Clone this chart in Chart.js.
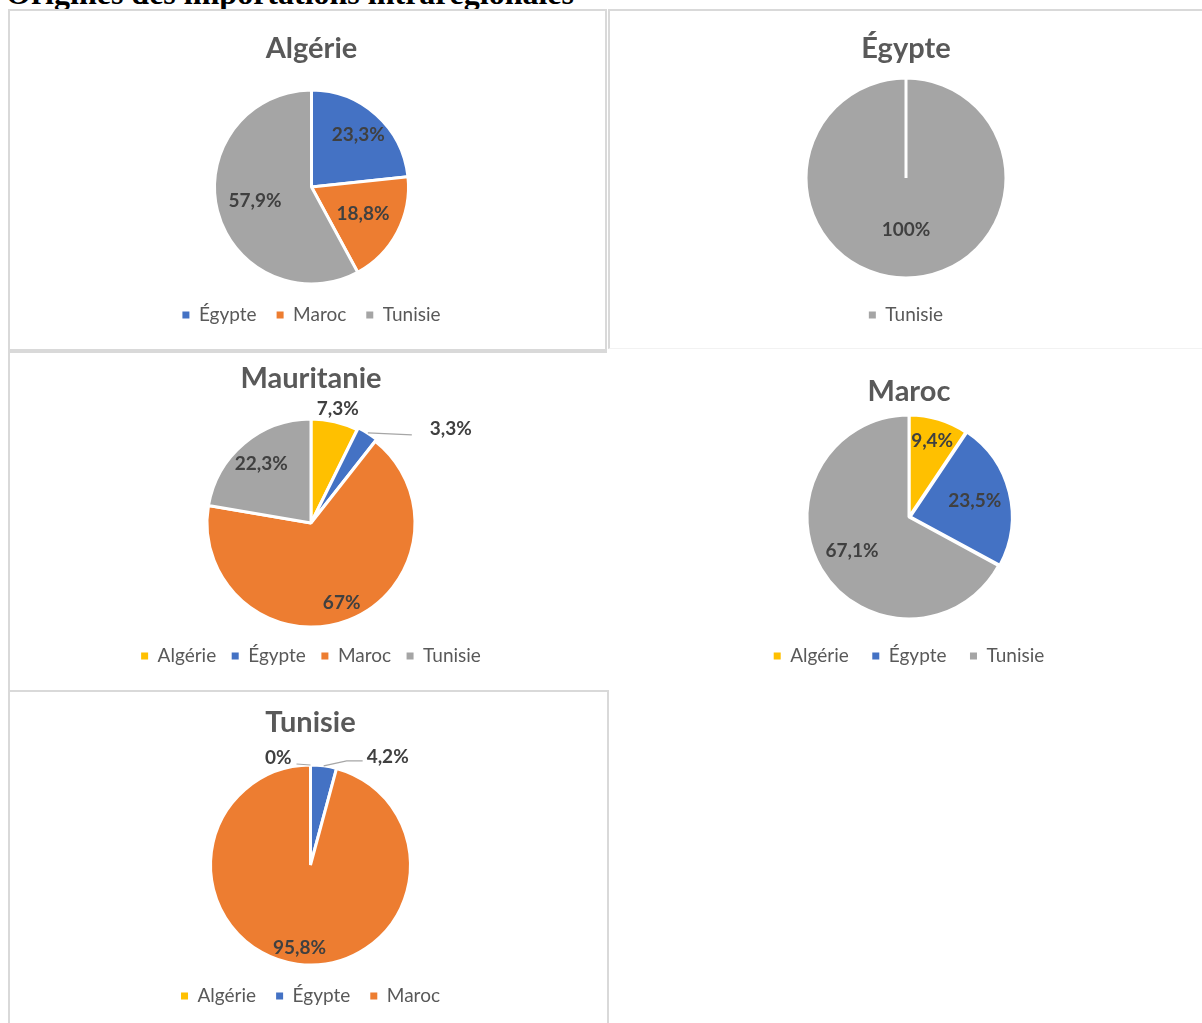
<!DOCTYPE html>
<html lang="fr">
<head>
<meta charset="utf-8">
<title>Origines des importations intrarégionales</title>
<script src="https://cdn.jsdelivr.net/npm/chart.js@4.4.0/dist/chart.umd.min.js"></script>
<style>
  body { margin: 0; background: #fff; width: 1202px; height: 1023px; overflow: hidden; position: relative; }
  #main-title { position: absolute; left: 6px; top: -23px; font: bold 32px/32px "Liberation Serif", serif; color: #000; white-space: nowrap; }
  .panel { position: absolute; box-sizing: border-box; background: #fff; }
  .panel canvas { position: absolute; left: 0; top: 0; }
  #p1 { left: 8px; top: 9px; width: 599px; height: 344px; border: 2px solid #d9d9d9; border-bottom-width: 4px; }
  #p2 { left: 608px; top: 9px; width: 594px; height: 340px; border-left: 2px solid #d9d9d9; border-top: 2px solid #d9d9d9; border-bottom: 1px solid #f2f2f2; }
  #p3 { left: 8px; top: 353px; width: 600px; height: 337px; border-left: 2px solid #d9d9d9; }
  #p4 { left: 608px; top: 353px; width: 594px; height: 337px; }
  #p5 { left: 8px; top: 690px; width: 601px; height: 340px; border: 2px solid #d9d9d9; border-bottom: none; }
</style>
</head>
<body>
<div id="main-title">Origines des importations intrarégionales</div>
<div class="panel" id="p1"><canvas id="c-algerie" width="595" height="336"></canvas></div>
<div class="panel" id="p2"><canvas id="c-egypte" width="592" height="337"></canvas></div>
<div class="panel" id="p3"><canvas id="c-mauritanie" width="598" height="337"></canvas></div>
<div class="panel" id="p4"><canvas id="c-maroc" width="594" height="337"></canvas></div>
<div class="panel" id="p5"><canvas id="c-tunisie" width="597" height="331"></canvas></div>
<script>
// Data (shares of intra-regional imports, %)
const algerieLabels = ['Égypte', 'Maroc', 'Tunisie'];
const algerieValues = [23.3, 18.8, 57.9];

const egypteLabels = ['Tunisie'];
const egypteValues = [100];

const mauritanieLabels = ['Algérie', 'Égypte', 'Maroc', 'Tunisie'];
const mauritanieValues = [7.3, 3.3, 67, 22.3];

const marocLabels = ['Algérie', 'Égypte', 'Tunisie'];
const marocValues = [9.4, 23.5, 67.1];

const tunisieLabels = ['Algérie', 'Égypte', 'Maroc'];
const tunisieValues = [0, 4.2, 95.8];

// Colours per partner country
const countryColors = {
    'Algérie': '#FFC000',
    'Égypte': '#4472C4',
    'Maroc': '#ED7D31',
    'Tunisie': '#A5A5A5'
};

const TITLE_SIZE = 29;
const LEGEND_SIZE = 19;
const LABEL_SIZE = 19;
const BORDER = 3;

function fmt(v) {
    return String(v).replace('.', ',') + '%';
}

// Draws the percentage labels, inside or outside the slices
const sliceLabels = {
    id: 'sliceLabels',
    afterDatasetsDraw(chart, args, opts) {
        const ctx = chart.ctx;
        const meta = chart.getDatasetMeta(0);
        const values = chart.data.datasets[0].data;
        ctx.save();
        ctx.font = 'bold ' + LABEL_SIZE + 'px Lato, sans-serif';
        ctx.fillStyle = '#404040';
        ctx.textBaseline = 'middle';
        meta.data.forEach((arc, i) => {
            const p = opts.place[i];
            const a = arc.getProps(['x', 'y', 'startAngle', 'endAngle', 'outerRadius'], true);
            const mid = (a.startAngle + a.endAngle) / 2;
            const off = (arc.options.offset || 0) / 2;
            const cos = Math.cos(mid), sin = Math.sin(mid);
            const text = fmt(values[i]);
            if (p.lines) {
                // leader line from the slice edge
                const ex = a.x + cos * (a.outerRadius + off);
                const ey = a.y + sin * (a.outerRadius + off);
                ctx.beginPath();
                ctx.strokeStyle = '#a6a6a6';
                ctx.lineWidth = 1.2;
                ctx.moveTo(ex, ey);
                p.lines.forEach(pt => ctx.lineTo(ex + pt[0], ey + pt[1]));
                ctx.stroke();
                ctx.textAlign = p.align;
                ctx.fillText(text, ex + p.text[0], ey + p.text[1]);
            } else {
                ctx.textAlign = 'center';
                const d = a.outerRadius * p.f + off;
                ctx.fillText(text, a.x + cos * d, a.y + sin * d);
            }
        });
        ctx.restore();
    }
};

function pieChart(id, title, labels, values, geo, place, offsets) {
    const canvas = document.getElementById(id);
    const h = canvas.height;
    const maxOff = Math.max(0, ...(offsets || [0]));
    const extra = BORDER + maxOff;
    const top = geo.cy - geo.r - extra / 2;
    const bottom = geo.cy + geo.r + extra / 2;
    const titleTop = geo.titleY - TITLE_SIZE * 0.6;
    const legPad = geo.legendY - LEGEND_SIZE / 2 - bottom;
    const legBottom = bottom + LEGEND_SIZE + legPad + 10;

    return new Chart(canvas, {
        type: 'pie',
        data: {
            labels: labels,
            datasets: [{
                data: values,
                backgroundColor: labels.map(l => countryColors[l]),
                borderColor: '#ffffff',
                borderWidth: BORDER,
                offset: offsets || 0
            }]
        },
        options: {
            responsive: false,
            animation: false,
            events: [],
            layout: {
                padding: { top: 0, bottom: h - legBottom, left: geo.padL || 0, right: geo.padR || 0 }
            },
            plugins: {
                title: {
                    display: true,
                    text: title,
                    color: '#595959',
                    font: { family: 'Lato, sans-serif', size: TITLE_SIZE, weight: 'bold' },
                    padding: { top: titleTop, bottom: top - (titleTop + TITLE_SIZE * 1.2) }
                },
                legend: {
                    display: true,
                    position: 'bottom',
                    labels: {
                        boxWidth: 7,
                        boxHeight: 7,
                        padding: legPad,
                        color: '#595959',
                        font: { family: 'Lato, sans-serif', size: LEGEND_SIZE },
                        generateLabels: chart => Chart.overrides.doughnut.plugins.legend.labels
                            .generateLabels(chart).map(item => Object.assign(item, { lineWidth: 0 }))
                    }
                },
                tooltip: { enabled: false },
                sliceLabels: { place: place }
            }
        },
        plugins: [sliceLabels]
    });
}

pieChart('c-algerie', 'Algérie', algerieLabels, algerieValues,
    { titleY: 38, cy: 176, r: 97, legendY: 304, padL: 8 },
    [{ f: 0.72 }, { f: 0.6 }, { f: 0.6 }]);

pieChart('c-egypte', 'Égypte', egypteLabels, egypteValues,
    { titleY: 38, cy: 167, r: 100, legendY: 304 },
    [{ f: 0.52 }]);

pieChart('c-mauritanie', 'Mauritanie', mauritanieLabels, mauritanieValues,
    { titleY: 26, cy: 170, r: 104, legendY: 303, padL: 4 },
    [{ f: 1.13 },
     { lines: [[44, 2]], text: [62, -4], align: 'left' },
     { f: 0.82 },
     { f: 0.74 }],
    [0, 5, 0, 0]);

pieChart('c-maroc', 'Maroc', marocLabels, marocValues,
    { titleY: 39, cy: 164, r: 102, legendY: 303, padL: 8 },
    [{ f: 0.78 }, { f: 0.64 }, { f: 0.65 }],
    [0, 5, 0]);

pieChart('c-tunisie', 'Tunisie', tunisieLabels, tunisieValues,
    { titleY: 31, cy: 173, r: 100, legendY: 304, padL: 4 },
    [{ lines: [[-14, -1]], text: [-19, -7], align: 'right' },
     { lines: [[23, -5], [39, -5]], text: [43, -9], align: 'left' },
     { f: 0.84 }]);
</script>
</body>
</html>
